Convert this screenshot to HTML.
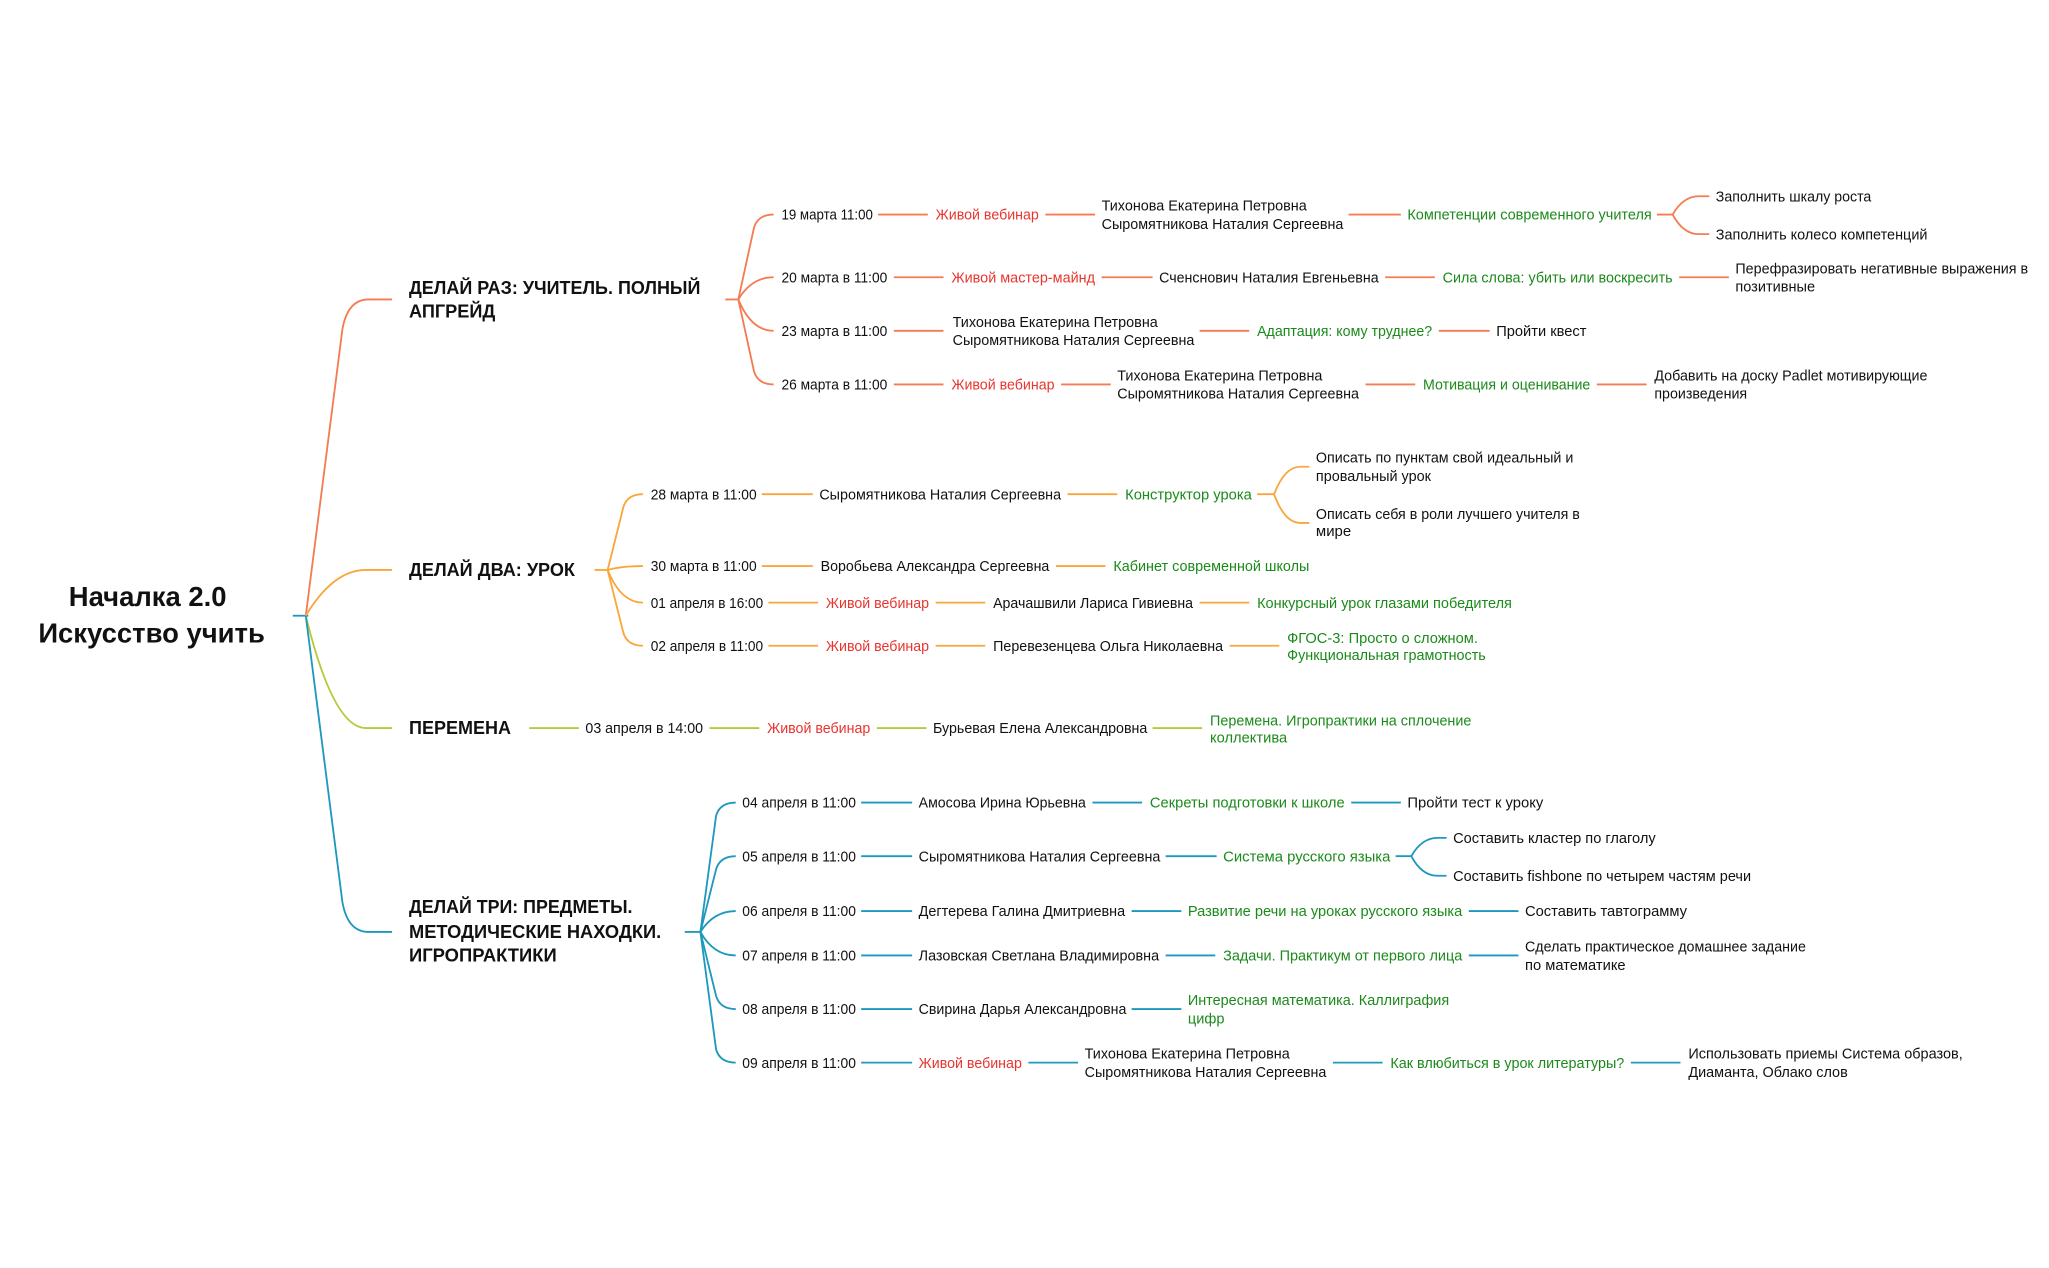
<!DOCTYPE html>
<html><head><meta charset="utf-8"><style>
html,body{margin:0;padding:0;background:#fff;width:2049px;height:1268px;overflow:hidden}
svg{display:block}
text{font-family:"Liberation Sans",sans-serif;font-size:11.2px;fill:#111;dominant-baseline:middle}
.r{fill:#e8352f}.g{fill:#1b8a1b}
.m{font-size:14px;font-weight:bold;fill:#111}
.root{font-size:21px;font-weight:bold;text-anchor:middle}
path,line{fill:none;stroke-width:1.4}
.o1{stroke:#f47b52}.o2{stroke:#f9a73c}.o3{stroke:#b8c83a}.o4{stroke:#1e98bd}
</style></head><body>
<svg width="2049" height="1268" viewBox="0 0 1568 970" xmlns="http://www.w3.org/2000/svg">
<g transform="translate(0,1)">
<text class="root" x="113" y="457">Началка 2.0</text>
<text class="root" x="116" y="485">Искусство учить</text>
<text class="m" x="313" y="220" textLength="223" lengthAdjust="spacingAndGlyphs">ДЕЛАЙ РАЗ: УЧИТЕЛЬ. ПОЛНЫЙ</text>
<text class="m" x="313" y="238" textLength="66" lengthAdjust="spacingAndGlyphs">АПГРЕЙД</text>
<text class="m" x="313" y="436" textLength="127" lengthAdjust="spacingAndGlyphs">ДЕЛАЙ ДВА: УРОК</text>
<text class="m" x="313" y="557" textLength="78" lengthAdjust="spacingAndGlyphs">ПЕРЕМЕНА</text>
<text class="m" x="313" y="694" textLength="171" lengthAdjust="spacingAndGlyphs">ДЕЛАЙ ТРИ: ПРЕДМЕТЫ.</text>
<text class="m" x="313" y="713" textLength="193" lengthAdjust="spacingAndGlyphs">МЕТОДИЧЕСКИЕ НАХОДКИ.</text>
<text class="m" x="313" y="731" textLength="113" lengthAdjust="spacingAndGlyphs">ИГРОПРАКТИКИ</text>

<text x="598" y="164" textLength="70" lengthAdjust="spacingAndGlyphs">19 марта 11:00</text>
<text class="r" x="716" y="164" textLength="79" lengthAdjust="spacingAndGlyphs">Живой вебинар</text>
<text x="843" y="157" textLength="157" lengthAdjust="spacingAndGlyphs">Тихонова Екатерина Петровна</text>
<text x="843" y="171" textLength="185" lengthAdjust="spacingAndGlyphs">Сыромятникова Наталия Сергеевна</text>
<text class="g" x="1077" y="164" textLength="187" lengthAdjust="spacingAndGlyphs">Компетенции современного учителя</text>
<text x="1313" y="150" textLength="119" lengthAdjust="spacingAndGlyphs">Заполнить шкалу роста</text>
<text x="1313" y="179" textLength="162" lengthAdjust="spacingAndGlyphs">Заполнить колесо компетенций</text>

<text x="598" y="212" textLength="81" lengthAdjust="spacingAndGlyphs">20 марта в 11:00</text>
<text class="r" x="728" y="212" textLength="110" lengthAdjust="spacingAndGlyphs">Живой мастер-майнд</text>
<text x="887" y="212" textLength="168" lengthAdjust="spacingAndGlyphs">Сченснович Наталия Евгеньевна</text>
<text class="g" x="1104" y="212" textLength="176" lengthAdjust="spacingAndGlyphs">Сила слова: убить или воскресить</text>
<text x="1328" y="205" textLength="224" lengthAdjust="spacingAndGlyphs">Перефразировать негативные выражения в</text>
<text x="1328" y="219" textLength="61" lengthAdjust="spacingAndGlyphs">позитивные</text>

<text x="598" y="253" textLength="81" lengthAdjust="spacingAndGlyphs">23 марта в 11:00</text>
<text x="729" y="246" textLength="157" lengthAdjust="spacingAndGlyphs">Тихонова Екатерина Петровна</text>
<text x="729" y="260" textLength="185" lengthAdjust="spacingAndGlyphs">Сыромятникова Наталия Сергеевна</text>
<text class="g" x="962" y="253" textLength="134" lengthAdjust="spacingAndGlyphs">Адаптация: кому труднее?</text>
<text x="1145" y="253" textLength="69" lengthAdjust="spacingAndGlyphs">Пройти квест</text>

<text x="598" y="294" textLength="81" lengthAdjust="spacingAndGlyphs">26 марта в 11:00</text>
<text class="r" x="728" y="294" textLength="79" lengthAdjust="spacingAndGlyphs">Живой вебинар</text>
<text x="855" y="287" textLength="157" lengthAdjust="spacingAndGlyphs">Тихонова Екатерина Петровна</text>
<text x="855" y="301" textLength="185" lengthAdjust="spacingAndGlyphs">Сыромятникова Наталия Сергеевна</text>
<text class="g" x="1089" y="294" textLength="128" lengthAdjust="spacingAndGlyphs">Мотивация и оценивание</text>
<text x="1266" y="287" textLength="209" lengthAdjust="spacingAndGlyphs">Добавить на доску Padlet мотивирующие</text>
<text x="1266" y="301" textLength="71" lengthAdjust="spacingAndGlyphs">произведения</text>

<text x="498" y="378" textLength="81" lengthAdjust="spacingAndGlyphs">28 марта в 11:00</text>
<text x="627" y="378" textLength="185" lengthAdjust="spacingAndGlyphs">Сыромятникова Наталия Сергеевна</text>
<text class="g" x="861" y="378" textLength="97" lengthAdjust="spacingAndGlyphs">Конструктор урока</text>
<text x="1007" y="350" textLength="197" lengthAdjust="spacingAndGlyphs">Описать по пунктам свой идеальный и</text>
<text x="1007" y="364" textLength="88" lengthAdjust="spacingAndGlyphs">провальный урок</text>
<text x="1007" y="393" textLength="202" lengthAdjust="spacingAndGlyphs">Описать себя в роли лучшего учителя в</text>
<text x="1007" y="406" textLength="27" lengthAdjust="spacingAndGlyphs">мире</text>
<text x="498" y="433" textLength="81" lengthAdjust="spacingAndGlyphs">30 марта в 11:00</text>
<text x="628" y="433" textLength="175" lengthAdjust="spacingAndGlyphs">Воробьева Александра Сергеевна</text>
<text class="g" x="852" y="433" textLength="150" lengthAdjust="spacingAndGlyphs">Кабинет современной школы</text>
<text x="498" y="461" textLength="86" lengthAdjust="spacingAndGlyphs">01 апреля в 16:00</text>
<text class="r" x="632" y="461" textLength="79" lengthAdjust="spacingAndGlyphs">Живой вебинар</text>
<text x="760" y="461" textLength="153" lengthAdjust="spacingAndGlyphs">Арачашвили Лариса Гивиевна</text>
<text class="g" x="962" y="461" textLength="195" lengthAdjust="spacingAndGlyphs">Конкурсный урок глазами победителя</text>
<text x="498" y="494" textLength="86" lengthAdjust="spacingAndGlyphs">02 апреля в 11:00</text>
<text class="r" x="632" y="494" textLength="79" lengthAdjust="spacingAndGlyphs">Живой вебинар</text>
<text x="760" y="494" textLength="176" lengthAdjust="spacingAndGlyphs">Перевезенцева Ольга Николаевна</text>
<text class="g" x="985" y="488" textLength="146" lengthAdjust="spacingAndGlyphs">ФГОС-3: Просто о сложном.</text>
<text class="g" x="985" y="501" textLength="152" lengthAdjust="spacingAndGlyphs">Функциональная грамотность</text>

<text x="448" y="557" textLength="90" lengthAdjust="spacingAndGlyphs">03 апреля в 14:00</text>
<text class="r" x="587" y="557" textLength="79" lengthAdjust="spacingAndGlyphs">Живой вебинар</text>
<text x="714" y="557" textLength="164" lengthAdjust="spacingAndGlyphs">Бурьевая Елена Александровна</text>
<text class="g" x="926" y="551" textLength="200" lengthAdjust="spacingAndGlyphs">Перемена. Игропрактики на сплочение</text>
<text class="g" x="926" y="564" textLength="59" lengthAdjust="spacingAndGlyphs">коллектива</text>

<text x="568" y="614" textLength="87" lengthAdjust="spacingAndGlyphs">04 апреля в 11:00</text>
<text x="703" y="614" textLength="128" lengthAdjust="spacingAndGlyphs">Амосова Ирина Юрьевна</text>
<text class="g" x="880" y="614" textLength="149" lengthAdjust="spacingAndGlyphs">Секреты подготовки к школе</text>
<text x="1077" y="614" textLength="104" lengthAdjust="spacingAndGlyphs">Пройти тест к уроку</text>
<text x="568" y="655" textLength="87" lengthAdjust="spacingAndGlyphs">05 апреля в 11:00</text>
<text x="703" y="655" textLength="185" lengthAdjust="spacingAndGlyphs">Сыромятникова Наталия Сергеевна</text>
<text class="g" x="936" y="655" textLength="128" lengthAdjust="spacingAndGlyphs">Система русского языка</text>
<text x="1112" y="641" textLength="155" lengthAdjust="spacingAndGlyphs">Составить кластер по глаголу</text>
<text x="1112" y="670" textLength="228" lengthAdjust="spacingAndGlyphs">Составить fishbone по четырем частям речи</text>
<text x="568" y="697" textLength="87" lengthAdjust="spacingAndGlyphs">06 апреля в 11:00</text>
<text x="703" y="697" textLength="158" lengthAdjust="spacingAndGlyphs">Дегтерева Галина Дмитриевна</text>
<text class="g" x="909" y="697" textLength="210" lengthAdjust="spacingAndGlyphs">Развитие речи на уроках русского языка</text>
<text x="1167" y="697" textLength="124" lengthAdjust="spacingAndGlyphs">Составить тавтограмму</text>
<text x="568" y="731" textLength="87" lengthAdjust="spacingAndGlyphs">07 апреля в 11:00</text>
<text x="703" y="731" textLength="184" lengthAdjust="spacingAndGlyphs">Лазовская Светлана Владимировна</text>
<text class="g" x="936" y="731" textLength="183" lengthAdjust="spacingAndGlyphs">Задачи. Практикум от первого лица</text>
<text x="1167" y="724" textLength="215" lengthAdjust="spacingAndGlyphs">Сделать практическое домашнее задание</text>
<text x="1167" y="738" textLength="77" lengthAdjust="spacingAndGlyphs">по математике</text>
<text x="568" y="772" textLength="87" lengthAdjust="spacingAndGlyphs">08 апреля в 11:00</text>
<text x="703" y="772" textLength="159" lengthAdjust="spacingAndGlyphs">Свирина Дарья Александровна</text>
<text class="g" x="909" y="765" textLength="200" lengthAdjust="spacingAndGlyphs">Интересная математика. Каллиграфия</text>
<text class="g" x="909" y="779" textLength="28" lengthAdjust="spacingAndGlyphs">цифр</text>
<text x="568" y="813" textLength="87" lengthAdjust="spacingAndGlyphs">09 апреля в 11:00</text>
<text class="r" x="703" y="813" textLength="79" lengthAdjust="spacingAndGlyphs">Живой вебинар</text>
<text x="830" y="806" textLength="157" lengthAdjust="spacingAndGlyphs">Тихонова Екатерина Петровна</text>
<text x="830" y="820" textLength="185" lengthAdjust="spacingAndGlyphs">Сыромятникова Наталия Сергеевна</text>
<text class="g" x="1064" y="813" textLength="179" lengthAdjust="spacingAndGlyphs">Как влюбиться в урок литературы?</text>
<text x="1292" y="806" textLength="210" lengthAdjust="spacingAndGlyphs">Использовать приемы Система образов,</text>
<text x="1292" y="820" textLength="122" lengthAdjust="spacingAndGlyphs">Диаманта, Облако слов</text>
</g>

<line class="o4" x1="224" y1="471" x2="236" y2="471"/>
<path class="o1" d="M234 471 L262 252 Q266 229 282 229 L300 229"/>
<path class="o2" d="M234 471 Q255 436 280 436 L300 436"/>
<path class="o3" d="M234 471 Q255 557 280 557 L300 557"/>
<path class="o4" d="M234 471 L262 690 Q266 713 282 713 L300 713"/>

<g class="o1">
<line x1="555" y1="229" x2="565" y2="229"/>
<path d="M565 229 L577 174 Q580 164 592 164"/>
<path d="M565 229 Q575 212 592 212"/>
<path d="M565 229 Q575 253 592 253"/>
<path d="M565 229 L577 284 Q580 294 592 294"/>
<line x1="672" y1="164" x2="710" y2="164"/><line x1="800" y1="164" x2="838" y2="164"/><line x1="1032" y1="164" x2="1072" y2="164"/>
<line x1="1268" y1="164" x2="1280" y2="164"/>
<path d="M1280 164 Q1288 150 1300 150 L1308 150"/><path d="M1280 164 Q1288 179 1300 179 L1308 179"/>
<line x1="684" y1="212" x2="722" y2="212"/><line x1="843" y1="212" x2="882" y2="212"/><line x1="1060" y1="212" x2="1098" y2="212"/><line x1="1285" y1="212" x2="1323" y2="212"/>
<line x1="684" y1="253" x2="722" y2="253"/><line x1="918" y1="253" x2="956" y2="253"/><line x1="1101" y1="253" x2="1140" y2="253"/>
<line x1="684" y1="294" x2="722" y2="294"/><line x1="812" y1="294" x2="850" y2="294"/><line x1="1045" y1="294" x2="1083" y2="294"/><line x1="1222" y1="294" x2="1260" y2="294"/>
</g>
<g class="o2">
<line x1="455" y1="436" x2="465" y2="436"/>
<path d="M465 436 L477 388 Q480 378 492 378"/>
<path d="M465 436 Q475 433 492 433"/>
<path d="M465 436 Q475 461 492 461"/>
<path d="M465 436 L477 484 Q480 494 492 494"/>
<line x1="583" y1="378" x2="622" y2="378"/><line x1="817" y1="378" x2="855" y2="378"/>
<line x1="962" y1="378" x2="975" y2="378"/>
<path d="M975 378 Q983 357 995 357 L1002 357"/><path d="M975 378 Q983 400 995 400 L1002 400"/>
<line x1="583" y1="433" x2="622" y2="433"/><line x1="808" y1="433" x2="846" y2="433"/>
<line x1="588" y1="461" x2="626" y2="461"/><line x1="716" y1="461" x2="754" y2="461"/><line x1="918" y1="461" x2="956" y2="461"/>
<line x1="588" y1="494" x2="626" y2="494"/><line x1="716" y1="494" x2="754" y2="494"/><line x1="941" y1="494" x2="979" y2="494"/>
</g>
<g class="o3">
<line x1="405" y1="557" x2="443" y2="557"/><line x1="543" y1="557" x2="581" y2="557"/><line x1="671" y1="557" x2="709" y2="557"/><line x1="882" y1="557" x2="920" y2="557"/>
</g>
<g class="o4">
<line x1="524" y1="713" x2="536" y2="713"/>
<path d="M536 713 L548 624 Q551 614 563 614"/>
<path d="M536 713 L548 665 Q551 655 563 655"/>
<path d="M536 713 Q546 697 563 697"/>
<path d="M536 713 Q546 731 563 731"/>
<path d="M536 713 L548 762 Q551 772 563 772"/>
<path d="M536 713 L548 803 Q551 813 563 813"/>
<line x1="659" y1="614" x2="698" y2="614"/><line x1="836" y1="614" x2="874" y2="614"/><line x1="1034" y1="614" x2="1072" y2="614"/>
<line x1="659" y1="655" x2="698" y2="655"/><line x1="892" y1="655" x2="931" y2="655"/>
<line x1="1068" y1="655" x2="1080" y2="655"/>
<path d="M1080 655 Q1088 641 1100 641 L1107 641"/><path d="M1080 655 Q1088 670 1100 670 L1107 670"/>
<line x1="659" y1="697" x2="698" y2="697"/><line x1="866" y1="697" x2="904" y2="697"/><line x1="1124" y1="697" x2="1162" y2="697"/>
<line x1="659" y1="731" x2="698" y2="731"/><line x1="892" y1="731" x2="930" y2="731"/><line x1="1124" y1="731" x2="1162" y2="731"/>
<line x1="659" y1="772" x2="698" y2="772"/><line x1="866" y1="772" x2="904" y2="772"/>
<line x1="659" y1="813" x2="698" y2="813"/><line x1="787" y1="813" x2="825" y2="813"/><line x1="1020" y1="813" x2="1058" y2="813"/><line x1="1248" y1="813" x2="1286" y2="813"/>
</g>
</svg>
</body></html>
